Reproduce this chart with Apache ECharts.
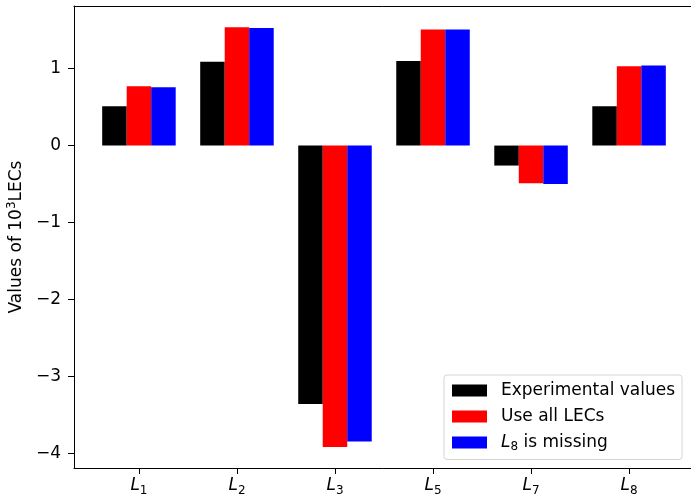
<!DOCTYPE html>
<html>
<head>
<meta charset="utf-8">
<script src="https://cdn.jsdelivr.net/npm/echarts@6/dist/echarts.min.js"></script>
<style>html,body{margin:0;padding:0;background:#fff}#c{width:691px;height:498px}</style>
</head>
<body>
<div id="c"></div>
<script>
const categories = ['L1', 'L2', 'L3', 'L5', 'L7', 'L8'];
const subscripts = ['1', '2', '3', '5', '7', '8'];
const experimental = [0.51, 1.09, -3.36, 1.10, -0.26, 0.51];
const allLECs = [0.77, 1.54, -3.92, 1.51, -0.49, 1.03];
const l8Missing = [0.76, 1.53, -3.85, 1.51, -0.50, 1.04];
const yTicks = [-4, -3, -2, -1, 0, 1];
const seriesNames = ['Experimental values', 'Use all LECs', 'L8 is missing'];

const FONT = 'DejaVu Sans';
const FS = 17;
const chart = echarts.init(document.getElementById('c'), null, {renderer: 'canvas'});
const xIdx = categories.map((_, i) => i);
function mk(name, vals, color) {
  return {
    name: name, type: 'bar', xAxisIndex: 0,
    data: vals.map((v, i) => [xIdx[i], v]),
    barWidth: '25%', barGap: '0%',
    itemStyle: {color: color},
    emphasis: {disabled: true},
    animation: false
  };
}
const option = {
  animation: false,
  textStyle: {fontFamily: FONT},
  grid: {left: 74, top: 6, right: -3, bottom: 30, outerBoundsMode: 'none', containLabel: false},
  xAxis: [{
    type: 'value', min: -0.6625, max: 5.6625,
    splitLine: {show: false},
    axisLine: {show: true, onZero: false, lineStyle: {color: '#000', width: 1}},
    axisTick: {show: true, customValues: xIdx, length: 6, lineStyle: {color: '#000'}},
    axisLabel: {
      show: true, customValues: xIdx, margin: 7, color: '#000',
      formatter: function (v) { return '{i|L}{s|' + subscripts[Math.round(v)] + '}'; },
      rich: {
        i: {fontStyle: 'italic', fontSize: FS, fontFamily: FONT, color: '#000', lineHeight: 22},
        s: {fontSize: 12, fontFamily: FONT, color: '#000', verticalAlign: 'bottom', lineHeight: 22}
      }
    }
  }, {
    type: 'value', position: 'top', min: -0.6625, max: 5.6625,
    splitLine: {show: false},
    axisLine: {show: true, onZero: false, lineStyle: {color: '#000', width: 1}},
    axisTick: {show: false}, axisLabel: {show: false}
  }],
  yAxis: [{
    type: 'value', min: -4.193, max: 1.815,
    name: '{n|Values of 10}{sup|3}{n|LECs}', nameLocation: 'middle', nameGap: 43,
    nameTextStyle: {
      fontSize: FS, fontFamily: FONT, color: '#000',
      rich: {
        n: {fontSize: FS, fontFamily: FONT, color: '#000', lineHeight: 22},
        sup: {fontSize: 12, fontFamily: FONT, color: '#000', verticalAlign: 'top', lineHeight: 22}
      }
    },
    splitLine: {show: false},
    axisLine: {show: true, onZero: false, lineStyle: {color: '#000', width: 1}},
    axisTick: {show: true, customValues: yTicks, length: 6, lineStyle: {color: '#000'}},
    axisLabel: {
      show: true, customValues: yTicks, margin: 13, color: '#000', fontSize: FS, fontFamily: FONT,
      formatter: function (v) { const r = Math.round(v); return r < 0 ? '\u2212' + Math.abs(r) : String(r); }
    }
  }],
  legend: {
    orient: 'vertical', left: 444, top: 375,
    padding: [7, 7, 7, 8], itemGap: 9, itemWidth: 35, itemHeight: 12,
    icon: 'rect',
    backgroundColor: 'rgba(255,255,255,0.8)', borderColor: '#d5d5d5', borderWidth: 1, borderRadius: 3,
    selectedMode: false,
    data: seriesNames,
    formatter: function (name) {
      if (name === seriesNames[2]) return '{i|L}{s|8}{n| is missing}';
      return '{n|' + name + '}';
    },
    textStyle: {
      fontSize: FS, fontFamily: FONT, color: '#000', padding: [0, 0, 0, 9],
      rich: {
        n: {fontSize: FS, fontFamily: FONT, color: '#000', lineHeight: 20},
        i: {fontSize: FS, fontStyle: 'italic', fontFamily: FONT, color: '#000', lineHeight: 20},
        s: {fontSize: 12, fontFamily: FONT, color: '#000', verticalAlign: 'bottom', lineHeight: 20}
      }
    }
  },
  series: [
    mk(seriesNames[0], experimental, '#000000'),
    mk(seriesNames[1], allLECs, '#ff0000'),
    mk(seriesNames[2], l8Missing, '#0000ff')
  ]
};
chart.setOption(option);
</script>
</body>
</html>
